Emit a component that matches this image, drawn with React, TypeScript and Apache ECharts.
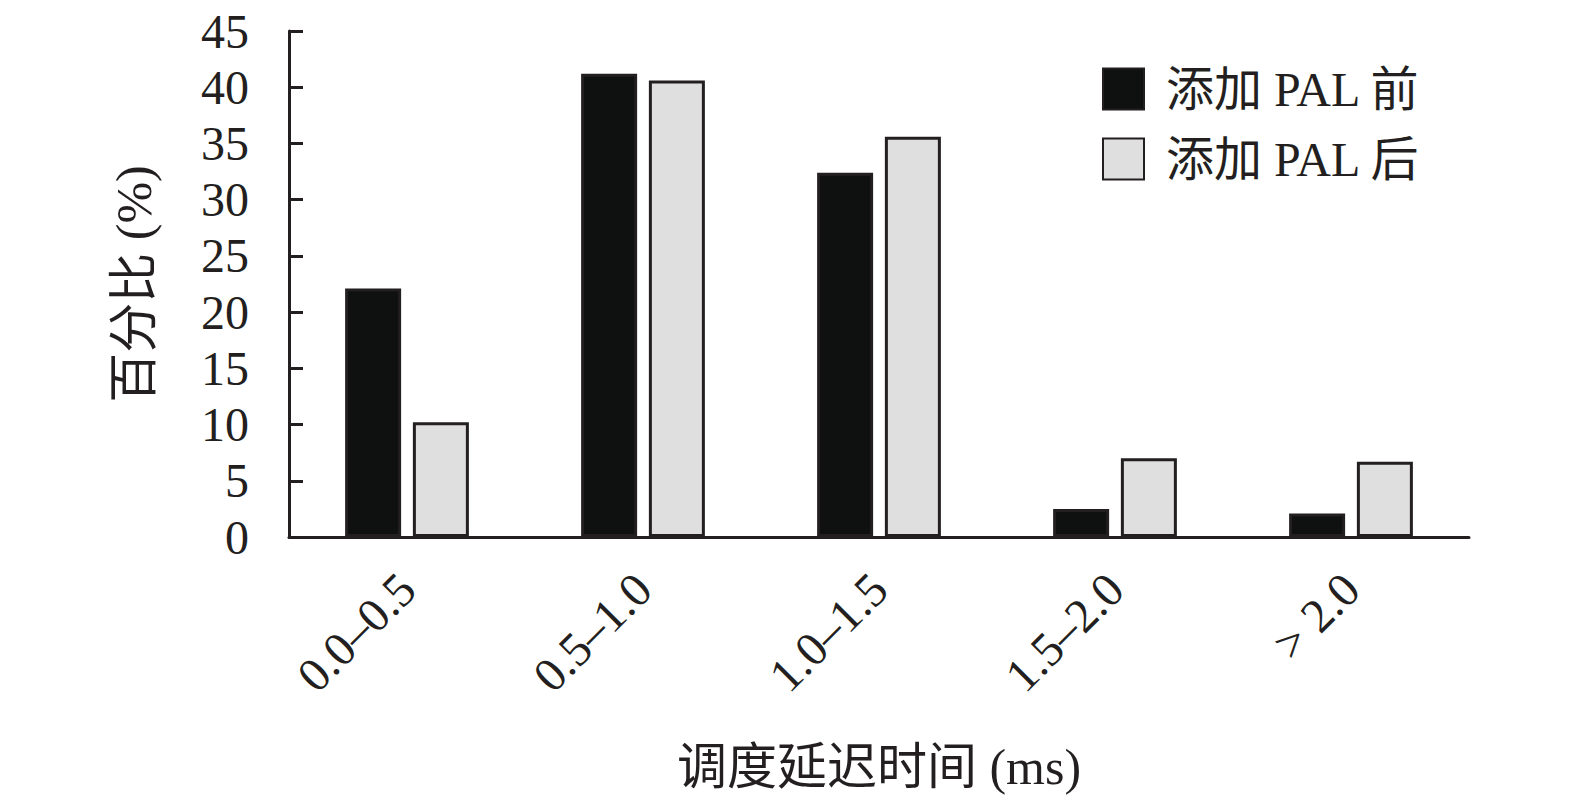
import React, { useEffect, useRef } from "react";
import * as echarts from "echarts";

const categories = ["0.0–0.5", "0.5–1.0", "1.0–1.5", "1.5–2.0", "> 2.0"];
const seriesNames = ["添加 PAL 前", "添加 PAL 后"];
const beforeValues = [22.1, 41.2, 32.4, 2.5, 2.1];
const afterValues = [10.2, 40.6, 35.6, 7.0, 6.7];
const yTicks = { min: 0, max: 45, interval: 5 };

const FONT = "'Liberation Serif', 'Times New Roman', 'Noto Sans CJK SC', serif";
const INK = "#231f20";

export default function App() {
  const ref = useRef<HTMLDivElement>(null);
  useEffect(() => {
    if (!ref.current) return;
    const chart = echarts.init(ref.current, undefined, { renderer: "svg" });
    chart.setOption({
      animation: false,
      backgroundColor: "#ffffff",
      textStyle: { fontFamily: FONT },
      grid: { left: 289, right: 106, top: 31, bottom: 270, containLabel: false },
      legend: {
        orient: "vertical",
        left: 1097,
        top: 60,
        itemWidth: 41,
        itemHeight: 41,
        itemGap: 22,
        icon: "rect",
        textStyle: { fontFamily: FONT, fontSize: 48, color: INK, padding: [0, 0, 0, 17] },
        data: seriesNames,
      },
      xAxis: {
        type: "category",
        data: categories,
        name: "调度延迟时间 (ms)",
        nameLocation: "middle",
        nameGap: 205,
        nameTextStyle: { fontFamily: FONT, fontSize: 50, color: INK },
        axisLine: { lineStyle: { color: INK, width: 3 } },
        axisTick: { show: false },
        axisLabel: {
          rotate: 45,
          margin: 44,
          fontFamily: FONT,
          fontSize: 48,
          color: INK,
          interval: 0,
        },
      },
      yAxis: {
        type: "value",
        min: yTicks.min,
        max: yTicks.max,
        interval: yTicks.interval,
        name: "百分比 (%)",
        nameLocation: "middle",
        nameGap: 130,
        nameTextStyle: { fontFamily: FONT, fontSize: 50, color: INK },
        axisLine: { show: true, lineStyle: { color: INK, width: 3 } },
        axisTick: { show: true, inside: true, length: 14, lineStyle: { color: INK, width: 3 } },
        axisLabel: { margin: 40, fontFamily: FONT, fontSize: 48, color: INK },
        splitLine: { show: false },
      },
      series: [
        {
          name: seriesNames[0],
          type: "bar",
          data: beforeValues,
          barWidth: 56,
          barGap: "21%",
          itemStyle: { color: "#0f1010", borderColor: INK, borderWidth: 3 },
        },
        {
          name: seriesNames[1],
          type: "bar",
          data: afterValues,
          barWidth: 56,
          barGap: "21%",
          itemStyle: { color: "#e0dfe0", borderColor: INK, borderWidth: 3 },
        },
      ],
    });
    return () => chart.dispose();
  }, []);
  return (
    <div
      ref={ref}
      style={{ position: "fixed", left: 0, top: 0, width: 1575, height: 807 }}
    />
  );
}
